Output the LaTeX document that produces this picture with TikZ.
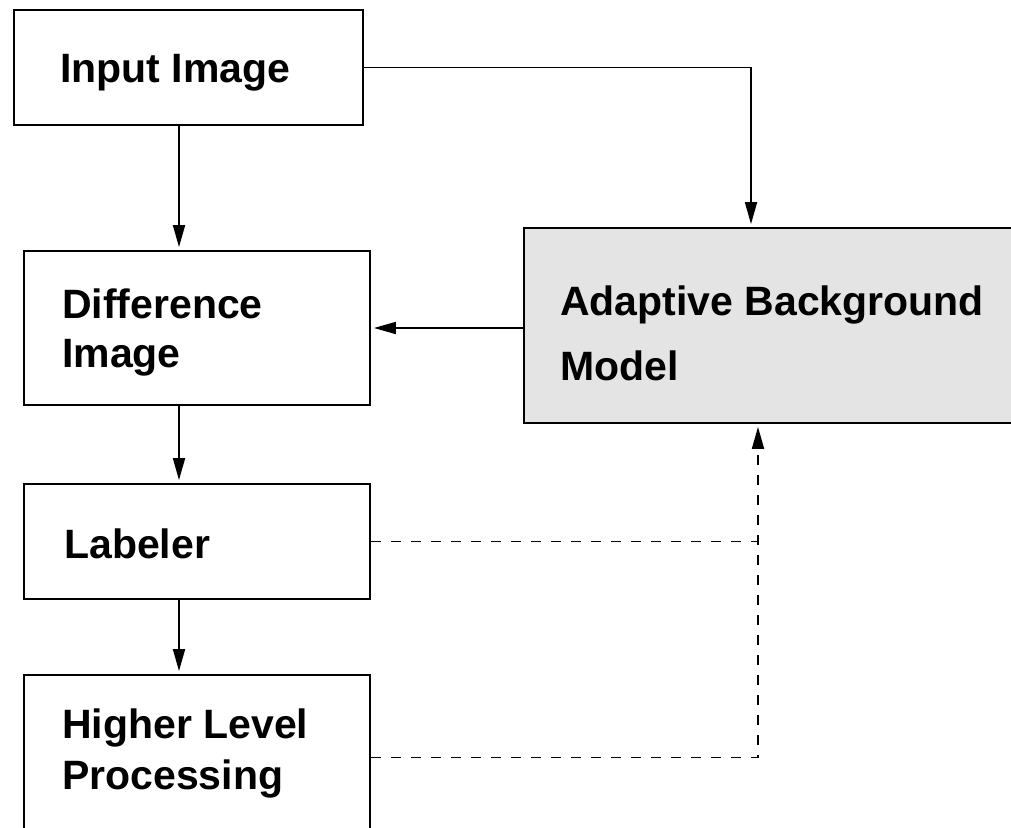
\documentclass[tikz,border=0pt]{standalone}
\usepackage{fontspec}
\setmainfont{Liberation Sans}
\usetikzlibrary{arrows.meta,calc}
\definecolor{modelgray}{RGB}{228,228,228}
\tikzset{
  block/.style={draw=black, line width=1.8pt, fill=white, inner sep=0pt},
  modelblock/.style={block, fill=modelgray},
  lbl/.style={inner sep=0pt, anchor=base west, font=\fontsize{41}{50}\selectfont\bfseries},
  flow/.style={line width=1.8pt, -{Triangle[length=22pt,width=12pt]}, shorten >=3pt},
  feedback/.style={flow, dash pattern=on 10pt off 10pt},
  feedline/.style={line width=1.8pt, dash pattern=on 10pt off 10pt},
}
\begin{document}
\begin{tikzpicture}[x=1pt, y=-1pt]
  \useasboundingbox (0,0) rectangle (1011,827);

  % boxes
  \node[block, minimum width=349pt, minimum height=115pt] (in)   at (188.5,67.5) {};
  \node[block, minimum width=346pt, minimum height=154pt] (diff) at (197,328) {};
  \node[block, minimum width=346pt, minimum height=115pt] (lab)  at (197,541.5) {};
  \node[block, minimum width=346pt, minimum height=165pt] (hlp)  at (197,757.5) {};
  \node[modelblock, minimum width=510pt, minimum height=195pt] (abm) at (779,325.5) {};

  % labels
  \node[lbl] (tin)  at (60,82)   {Input Image};
  \node[lbl] (tdf1) at (62,318)  {Difference};
  \node[lbl] (tdf2) at (62,367)  {Image};
  \node[lbl] (tlab) at (64,558)  {Labeler};
  \node[lbl] (tab1) at (560,315) {Adaptive Background};
  \node[lbl] (tab2) at (560,380) {Model};
  \node[lbl] (thl1) at (62,738)  {Higher Level};
  \node[lbl] (thl2) at (62,789)  {Processing};

  % column positions of the connectors
  \coordinate (leftcol)  at (179,0);
  \coordinate (topcol)   at (751,0);
  \coordinate (backcol)  at (758,0);

  % main pipeline
  \draw[flow] (in.south -| leftcol) -- (diff.north -| leftcol);
  \draw[flow] (diff.south -| leftcol) -- (lab.north -| leftcol);
  \draw[flow] (lab.south -| leftcol) -- (hlp.north -| leftcol);

  % input to background model, model to difference image
  \draw[flow] (in.east) -| (abm.north -| topcol);
  \draw[flow] (abm.west |- diff.east) -- (diff.east);

  % feedback into the background model
  \coordinate (fbjoin) at (lab.east -| backcol);
  \draw[feedline] (lab.east) -- (fbjoin);
  \draw[feedback] (hlp.east) -| (abm.south -| backcol);
\end{tikzpicture}
\end{document}
